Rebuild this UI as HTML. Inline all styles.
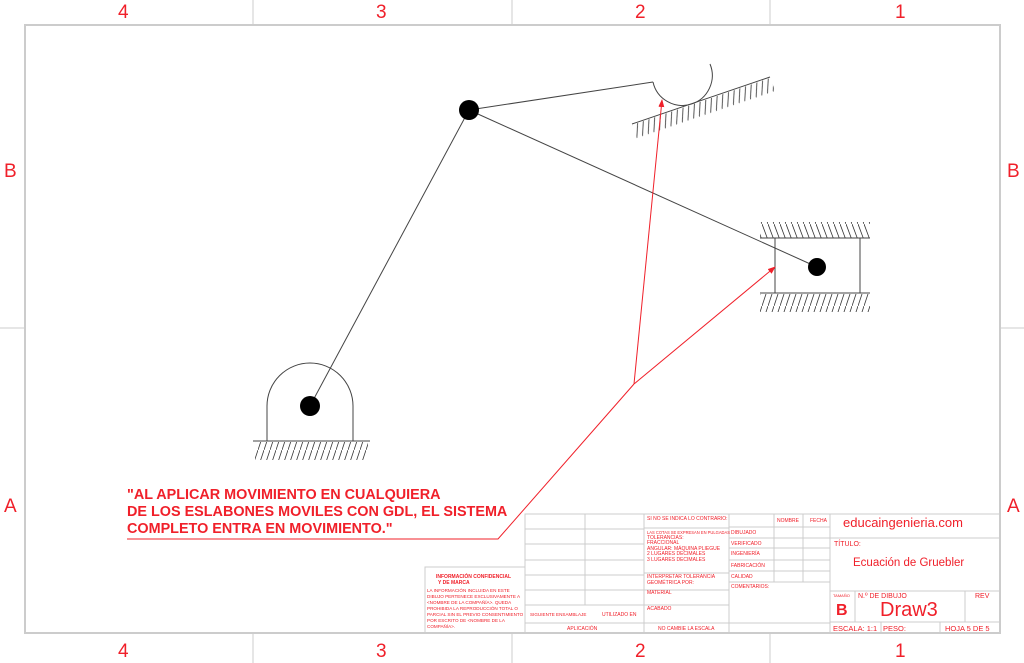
<!DOCTYPE html>
<html><head><meta charset="utf-8"><style>
html,body{margin:0;padding:0;background:#fff;}
svg{display:block;font-family:"Liberation Sans",sans-serif;}
.r{fill:#f0202a;}
.t{fill:#f0202a;font-size:5px;}
</style></head><body>
<svg width="1024" height="663" viewBox="0 0 1024 663" xmlns="http://www.w3.org/2000/svg">
<defs>
<pattern id="hs" patternUnits="userSpaceOnUse" width="6" height="18"><line x1="6" y1="0" x2="0" y2="18" stroke="#333" stroke-width="0.8"/></pattern>
<pattern id="hb" patternUnits="userSpaceOnUse" width="6" height="16"><line x1="0" y1="0" x2="6" y2="16" stroke="#333" stroke-width="0.8"/></pattern>
<pattern id="hi" patternUnits="userSpaceOnUse" width="6" height="15"><line x1="6" y1="0" x2="0" y2="15" stroke="#333" stroke-width="0.8"/></pattern>
<marker id="ar" markerWidth="8" markerHeight="6" refX="7" refY="3" orient="auto" markerUnits="userSpaceOnUse"><path d="M0,0 L8,3 L0,6 z" fill="#f0202a"/></marker>
</defs>
<rect x="25" y="25" width="975" height="608" fill="none" stroke="#ccc" stroke-width="2"/>
<g stroke="#ddd" stroke-width="1.5">
<line x1="253" y1="0" x2="253" y2="24"/><line x1="512" y1="0" x2="512" y2="24"/><line x1="770" y1="0" x2="770" y2="24"/>
<line x1="253" y1="634" x2="253" y2="663"/><line x1="512" y1="634" x2="512" y2="663"/><line x1="770" y1="634" x2="770" y2="663"/>
<line x1="0" y1="328" x2="24" y2="328"/><line x1="1001" y1="328" x2="1024" y2="328"/>
</g>
<g class="r" font-size="19">
<text x="118" y="18">4</text><text x="376" y="18">3</text><text x="635" y="18">2</text><text x="895" y="18">1</text>
<text x="118" y="657">4</text><text x="376" y="657">3</text><text x="635" y="657">2</text><text x="895" y="657">1</text>
<text x="4" y="177">B</text><text x="1007" y="177">B</text>
<text x="4" y="512">A</text><text x="1007" y="512">A</text>
</g>
<rect x="255" y="442" width="113" height="18" fill="url(#hs)"/>
<line x1="253" y1="441" x2="370" y2="441" stroke="#444" stroke-width="1"/>
<path d="M267,441 L267,406 A43,43 0 0 1 353,406 L353,441" fill="none" stroke="#444" stroke-width="1"/>
<g stroke="#444" stroke-width="1" fill="none">
<line x1="310" y1="406" x2="469" y2="110"/>
<line x1="469" y1="110" x2="653" y2="82"/>
<line x1="469" y1="110" x2="817" y2="267"/>
<path d="M653,82 A30,30 0 1 0 710,64"/>
<line x1="632" y1="124" x2="770" y2="77"/>
<line x1="760" y1="238" x2="870" y2="238"/>
<line x1="760" y1="293" x2="870" y2="293"/>
<line x1="775" y1="238" x2="775" y2="293"/>
<line x1="860" y1="238" x2="860" y2="293"/>
</g>
<g transform="translate(632,124) rotate(-18.8)"><rect x="0" y="1" width="146" height="14" fill="url(#hi)"/></g>
<rect x="760" y="222" width="110" height="16" fill="url(#hb)"/>
<rect x="760" y="294" width="110" height="18" fill="url(#hs)"/>
<circle cx="310" cy="406" r="10" fill="#000"/>
<circle cx="469" cy="110" r="10" fill="#000"/>
<circle cx="817" cy="267" r="9" fill="#000"/>
<g stroke="#f0202a" stroke-width="1" fill="none">
<line x1="634" y1="384" x2="662" y2="100" marker-end="url(#ar)"/>
<line x1="634" y1="384" x2="775" y2="267" marker-end="url(#ar)"/>
<polyline points="634,384 498,539 127,539"/>
</g>
<g class="r" font-size="14.4" font-weight="bold">
<text x="127" y="499">"AL APLICAR MOVIMIENTO EN CUALQUIERA</text>
<text x="127" y="516">DE LOS ESLABONES MOVILES CON GDL, EL SISTEMA</text>
<text x="127" y="533">COMPLETO ENTRA EN MOVIMIENTO."</text>
</g>
<g stroke="#ccc" stroke-width="1" fill="none">
<rect x="425" y="567" width="100" height="66"/>
<rect x="525" y="514" width="475" height="119"/>
<line x1="585" y1="514" x2="585" y2="605"/>
<line x1="525" y1="529" x2="644" y2="529"/><line x1="525" y1="544" x2="644" y2="544"/>
<line x1="525" y1="560" x2="644" y2="560"/><line x1="525" y1="575" x2="644" y2="575"/>
<line x1="525" y1="590" x2="644" y2="590"/><line x1="525" y1="605" x2="644" y2="605"/>
<line x1="525" y1="623" x2="830" y2="623"/>
<line x1="644" y1="514" x2="644" y2="633"/>
<line x1="644" y1="528" x2="729" y2="528"/><line x1="644" y1="573" x2="729" y2="573"/>
<line x1="644" y1="590" x2="729" y2="590"/><line x1="644" y1="605" x2="729" y2="605"/>
<line x1="729" y1="514" x2="729" y2="633"/>
<line x1="774" y1="514" x2="774" y2="582"/><line x1="803" y1="514" x2="803" y2="582"/>
<line x1="729" y1="527" x2="830" y2="527"/><line x1="729" y1="538" x2="830" y2="538"/>
<line x1="729" y1="548" x2="830" y2="548"/><line x1="729" y1="560" x2="830" y2="560"/>
<line x1="729" y1="571" x2="830" y2="571"/><line x1="729" y1="582" x2="830" y2="582"/>
<line x1="830" y1="514" x2="830" y2="633"/>
<line x1="830" y1="538" x2="1000" y2="538"/><line x1="830" y1="591" x2="1000" y2="591"/>
<line x1="830" y1="622" x2="1000" y2="622"/>
<line x1="855" y1="591" x2="855" y2="622"/><line x1="965" y1="591" x2="965" y2="622"/>
<line x1="881" y1="622" x2="881" y2="633"/><line x1="940" y1="622" x2="940" y2="633"/>
</g>
<g class="t">
<text x="436" y="578" font-weight="bold">INFORMACIÓN CONFIDENCIAL</text>
<text x="438" y="584" font-weight="bold">Y DE MARCA</text>
<text x="427" y="592" font-size="4.6">LA INFORMACIÓN INCLUIDA EN ESTE</text>
<text x="427" y="598" font-size="4.6">DIBUJO PERTENECE EXCLUSIVAMENTE A</text>
<text x="427" y="604" font-size="4.6">&lt;NOMBRE DE LA COMPAÑÍA&gt;. QUEDA</text>
<text x="427" y="610" font-size="4.6">PROHIBIDA LA REPRODUCCIÓN TOTAL O</text>
<text x="427" y="616" font-size="4.6">PARCIAL SIN EL PREVIO CONSENTIMIENTO</text>
<text x="427" y="622" font-size="4.6">POR ESCRITO DE &lt;NOMBRE DE LA</text>
<text x="427" y="628" font-size="4.6">COMPAÑÍA&gt;.</text>
<text x="530" y="616" font-size="4.6">SIGUIENTE ENSAMBLAJE</text>
<text x="602" y="616">UTILIZADO EN</text>
<text x="567" y="630">APLICACIÓN</text>
<text x="647" y="520">SI NO SE INDICA LO CONTRARIO:</text>
<text x="647" y="534" font-size="4.1">LAS COTAS SE EXPRESAN EN PULGADAS</text>
<text x="647" y="539">TOLERANCIAS:</text>
<text x="647" y="544">FRACCIONAL</text>
<text x="647" y="550">ANGULAR: MÁQUINA     PLIEGUE</text>
<text x="647" y="555">2 LUGARES DECIMALES</text>
<text x="647" y="561">3 LUGARES DECIMALES</text>
<text x="647" y="578">INTERPRETAR TOLERANCIA</text>
<text x="647" y="584">GEOMÉTRICA POR:</text>
<text x="647" y="594">MATERIAL</text>
<text x="647" y="610">ACABADO</text>
<text x="658" y="630">NO CAMBIE LA ESCALA</text>
<text x="777" y="522">NOMBRE</text><text x="810" y="522">FECHA</text>
<text x="731" y="534">DIBUJADO</text><text x="731" y="545">VERIFICADO</text>
<text x="731" y="555">INGENIERÍA</text><text x="731" y="567">FABRICACIÓN</text>
<text x="731" y="578">CALIDAD</text><text x="731" y="588">COMENTARIOS:</text>
<text x="833" y="597" font-size="4">TAMAÑO</text>
</g>
<g class="r">
<text x="843" y="527" font-size="13">educaingenieria.com</text>
<text x="834" y="546" font-size="7">TÍTULO:</text>
<text x="853" y="566" font-size="11.5">Ecuación de Gruebler</text>
<text x="858" y="598" font-size="7">N.º DE DIBUJO</text>
<text x="975" y="598" font-size="7">REV</text>
<text x="836" y="615" font-size="16" font-weight="bold">B</text>
<text x="880" y="616" font-size="20">Draw3</text>
<text x="833" y="631" font-size="7.5">ESCALA: 1:1</text>
<text x="883" y="631" font-size="7.5">PESO:</text>
<text x="945" y="631" font-size="7.5">HOJA 5 DE 5</text>
</g>
</svg>
</body></html>
